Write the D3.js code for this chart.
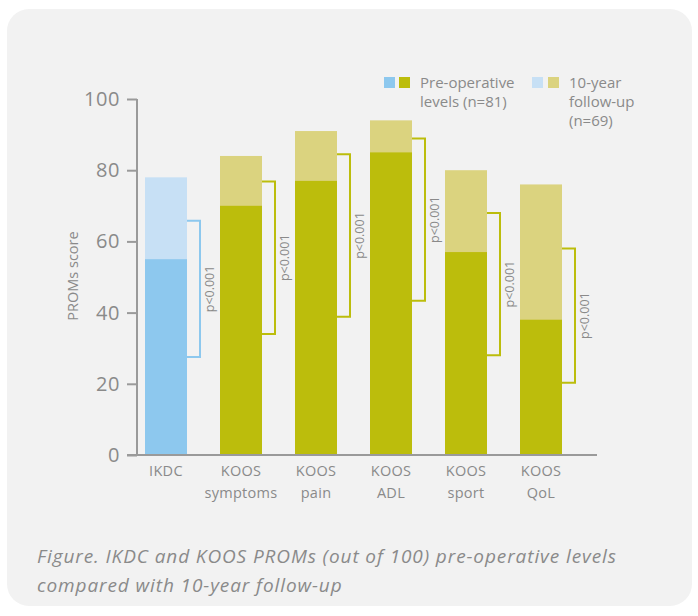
<!DOCTYPE html>
<html>
<head>
<meta charset="utf-8">
<script src="https://cdn.jsdelivr.net/npm/d3@7"></script>
<style>
  body { margin: 0; background: #fff; }
  svg text { font-family: "Open Sans", Lato, sans-serif; fill: #8a8a8a; }
</style>
</head>
<body>
<script>
// values
var categories = ['IKDC', 'KOOS symptoms', 'KOOS pain', 'KOOS ADL', 'KOOS sport', 'KOOS QoL'];
var catLines = [['IKDC'], ['KOOS', 'symptoms'], ['KOOS', 'pain'], ['KOOS', 'ADL'], ['KOOS', 'sport'], ['KOOS', 'QoL']];
var preOp = [55, 70, 77, 85, 57, 38];
var followUp = [78, 84, 91, 94, 80, 76];
// extent of the significance brackets
var bracketHigh = [65.8, 76.8, 84.5, 88.9, 68, 58];
var bracketLow = [27.5, 34, 38.8, 43.3, 28, 20.3];
var pLabel = 'p<0.001';
var yTicks = [0, 20, 40, 60, 80, 100];

var W = 698, H = 616;
var colPre = ['#8dc8ee', '#bcbd0c'];
var colFollow = ['#c7e0f5', '#dbd37f'];

var svg = d3.select('body').append('svg').attr('width', W).attr('height', H);

// panel
svg.append('rect').attr('x', 7).attr('y', 9).attr('width', 685).attr('height', 597)
  .attr('rx', 22).attr('ry', 22).attr('fill', '#f2f2f2');

var x = d3.scaleBand().domain(categories).range([128.5, 578.5])
  .paddingInner(0.44).paddingOuter(0.22);
var y = d3.scaleLinear().domain([0, 100]).range([455, 99]);
var bw = x.bandwidth();

function isIkdc(i) { return i === 0 ? 0 : 1; }

// follow-up bars (full height) then pre-op on top
svg.append('g').selectAll('rect').data(categories).join('rect')
  .attr('x', d => x(d)).attr('width', bw)
  .attr('y', (d, i) => y(followUp[i])).attr('height', (d, i) => y(0) - y(followUp[i]))
  .attr('fill', (d, i) => colFollow[isIkdc(i)]);

svg.append('g').selectAll('rect').data(categories).join('rect')
  .attr('x', d => x(d)).attr('width', bw)
  .attr('y', (d, i) => y(preOp[i])).attr('height', (d, i) => y(0) - y(preOp[i]))
  .attr('fill', (d, i) => colPre[isIkdc(i)]);

// brackets
var br = svg.append('g');
categories.forEach(function(c, i) {
  var x0 = x(c) + bw, x1 = x0 + 13;
  var yh = y(bracketHigh[i]), yl = y(bracketLow[i]);
  br.append('path')
    .attr('d', 'M' + x0 + ',' + yh + 'H' + x1 + 'V' + yl + 'H' + x0)
    .attr('fill', 'none').attr('stroke', colPre[isIkdc(i)]).attr('stroke-width', 2);
  br.append('text')
    .attr('transform', 'translate(' + (x1 + 10) + ',' + ((yh + yl) / 2) + ') rotate(-90)')
    .attr('text-anchor', 'middle').attr('dy', '0.35em')
    .style('font-size', '12.5px')
    .text(pLabel);
});

// y axis
var yAxis = svg.append('g').attr('transform', 'translate(137,0)')
  .call(d3.axisLeft(y).tickValues(yTicks).tickSize(10).tickPadding(7));
yAxis.select('.domain').attr('d', 'M0,' + y(100) + 'V' + y(0)).attr('stroke', '#9a9a9a').attr('stroke-width', 2);
yAxis.selectAll('.tick line').attr('stroke', '#9a9a9a').attr('stroke-width', 2);
yAxis.selectAll('.tick text').style('font-size', '20px').style('letter-spacing', '0.6px').attr('fill', '#8a8a8a');

// x axis
var xAxis = svg.append('g').attr('transform', 'translate(0,' + y(0) + ')')
  .call(d3.axisBottom(x).tickSize(0).tickFormat(''));
xAxis.select('.domain').attr('d', 'M127,0H597').attr('stroke', '#9a9a9a').attr('stroke-width', 2);

var lbl = svg.append('g');
categories.forEach(function(c, i) {
  var t = lbl.append('text').attr('x', x(c) + bw / 2).attr('y', 476)
    .attr('text-anchor', 'middle').style('font-size', '14.5px').style('letter-spacing', '0.3px');
  catLines[i].forEach(function(s, j) {
    t.append('tspan').attr('x', x(c) + bw / 2).attr('dy', j ? 22 : 0).text(s);
  });
});

// y label
svg.append('text').attr('transform', 'translate(73,276) rotate(-90)')
  .attr('text-anchor', 'middle').attr('dy', '0.35em')
  .style('font-size', '14.5px').text('PROMs score');

// legend
var leg = svg.append('g');
leg.append('rect').attr('x', 384).attr('y', 77).attr('width', 11).attr('height', 11).attr('fill', colPre[0]);
leg.append('rect').attr('x', 399).attr('y', 77).attr('width', 11).attr('height', 11).attr('fill', colPre[1]);
leg.append('rect').attr('x', 532).attr('y', 77).attr('width', 11).attr('height', 11).attr('fill', colFollow[0]);
leg.append('rect').attr('x', 548).attr('y', 77).attr('width', 11).attr('height', 11).attr('fill', colFollow[1]);
[['Pre-operative', 'levels (n=81)'], ['10-year', 'follow-up', '(n=69)']].forEach(function(lines, k) {
  var t = leg.append('text').attr('y', 88).style('font-size', '15px');
  lines.forEach(function(s, j) {
    t.append('tspan').attr('x', k ? 569 : 420).attr('dy', j ? 19 : 0).text(s);
  });
});

// caption
var cap = svg.append('text').attr('y', 563).style('font-size', '19px')
  .style('font-style', 'italic').style('letter-spacing', '0.9px').attr('fill', '#999');
cap.append('tspan').attr('x', 37).text('Figure. IKDC and KOOS PROMs (out of 100) pre-operative levels');
cap.append('tspan').attr('x', 37).attr('dy', 29).text('compared with 10-year follow-up');
</script>
</body>
</html>
